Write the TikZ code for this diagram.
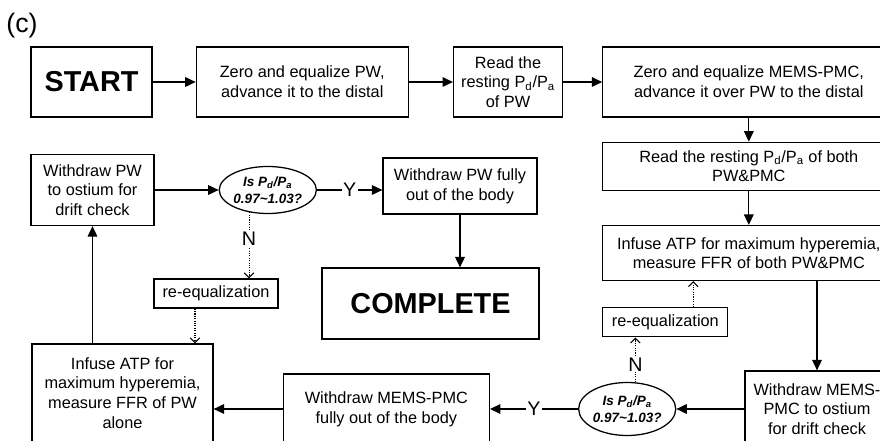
\documentclass[tikz,border=0pt]{standalone}
\usepackage{fontspec}
\setmainfont{Liberation Sans}
\usetikzlibrary{positioning,arrows.meta,shapes.geometric}

\begin{document}
\begin{tikzpicture}[
    x=0.25mm, y=-0.25mm,
    node distance=6mm and 10mm,
    box/.style={
        rectangle, draw, line width=0.9pt, inner sep=1mm, align=center,
        font=\fontsize{11.6}{14}\selectfont
    },
    bigbox/.style={box, font=\fontsize{20.5}{24}\selectfont\bfseries},
    decision/.style={
        ellipse, draw, line width=0.9pt, inner sep=0pt, align=center,
        font=\fontsize{9.6}{12}\selectfont\bfseries\itshape
    },
    arrow/.style={-{Triangle[length=2.6mm,width=2.4mm]}, line width=0.9pt},
    retry/.style={-{Straight Barb[length=1.2mm,width=2.4mm]}, line width=0.75pt,
        dash pattern=on 0.8pt off 0.9pt},
    yn/.style={fill=white, inner sep=1pt, font=\fontsize{14}{14}\selectfont}
]
\useasboundingbox (0,0) rectangle (880,441);
\clip (0,0) rectangle (880,441);
\fill[white] (0,0) rectangle (880,441);

\node[font=\fontsize{19}{19}\selectfont] (tag) at (22,26) {(c)};

% top row
\node[bigbox, minimum width=30.25mm, minimum height=17.5mm] (start) at (91.5,82) {START};
\node[box, minimum width=53mm, minimum height=17.5mm, right=10.75mm of start] (zeropw)
    {Zero and equalize PW,\\advance it to the distal};
\node[box, minimum width=27.25mm, minimum height=17.5mm, right=11mm of zeropw] (readpw)
    {Read the\\resting P\textsubscript{d}/P\textsubscript{a}\\of PW};
\node[box, minimum width=73mm, minimum height=17.5mm, right=9.75mm of readpw] (zeropmc)
    {Zero and equalize MEMS-PMC,\\advance it over PW to the distal};

% right column
\node[box, minimum width=73mm, minimum height=12mm, below=6mm of zeropmc] (readboth)
    {Read the resting P\textsubscript{d}/P\textsubscript{a} of both\\PW\&PMC};
\node[box, minimum width=73mm, minimum height=13.75mm, below=8.5mm of readboth] (ffrboth)
    {Infuse ATP for maximum hyperemia,\\measure FFR of both PW\&PMC};
\node[box, minimum width=31.25mm, minimum height=7.25mm, anchor=north west] (reeqR)
    at ([yshift=-6.5mm]ffrboth.south west) {re-equalization};

% bottom row
\node[box, minimum width=36mm, minimum height=19mm] (driftpmc) at (817,409)
    {Withdraw MEMS-\\PMC to ostium\\for drift check};
\node[decision, minimum width=23.5mm, minimum height=13.25mm, left=17mm of driftpmc] (checkR)
    {Is P\textsubscript{d}/P\textsubscript{a}\\0.97\textasciitilde1.03?};
\node[box, minimum width=51.5mm, minimum height=17.5mm, left=22mm of checkR] (outpmc)
    {Withdraw MEMS-PMC\\fully out of the body};
\node[box, minimum width=45.25mm, minimum height=24.5mm] (ffrpw) at (122.5,393)
    {Infuse ATP for\\maximum hyperemia,\\measure FFR of PW\\alone};

% middle-left row
\node[box, minimum width=30.75mm, minimum height=17.75mm] (driftpw) at (92.5,190)
    {Withdraw PW\\to ostium for\\drift check};
\node[decision, minimum width=24.25mm, minimum height=11.75mm, right=16mm of driftpw] (checkL)
    {Is P\textsubscript{d}/P\textsubscript{a}\\0.97\textasciitilde1.03?};
\node[box, minimum width=38.5mm, minimum height=14mm] (outpw) at (460,186)
    {Withdraw PW fully\\out of the body};
\node[bigbox, minimum width=54.25mm, minimum height=17.75mm] (complete) at (430.5,303.5) {COMPLETE};
\node[box, minimum width=31mm, minimum height=7.25mm] (reeqL) at (216,293.5) {re-equalization};

% connectors
\draw[arrow] (start) -- (zeropw);
\draw[arrow] (zeropw) -- (readpw);
\draw[arrow] (readpw) -- (zeropmc);
\draw[arrow] (zeropmc) -- (readboth);
\draw[arrow] (readboth) -- (ffrboth);
\draw[arrow] (ffrboth.south -| driftpmc) -- (driftpmc.north);
\draw[arrow] (driftpmc.west |- checkR) -- (checkR);
\draw[arrow] (checkR) -- node[yn]{Y} (outpmc);
\draw[arrow] (outpmc.west) -- (outpmc.west -| ffrpw.east);
\draw[arrow] (ffrpw.north -| driftpw) -- (driftpw.south);
\draw[arrow] (driftpw.east |- checkL) -- (checkL);
\draw[arrow] (checkL.east) -- node[yn]{Y} (checkL.east -| outpw.west);
\draw[arrow] (outpw.south) -- (outpw.south |- complete.north);

\draw[retry] (checkL.230) -- node[yn, pos=0.4]{N} (checkL.230 |- reeqL.north);
\draw[retry] ([xshift=-5.25mm]reeqL.south) -- ([xshift=-5.25mm]reeqL.south |- ffrpw.north);
\draw[retry] (checkR.73) -- node[yn, pos=0.4]{N} (checkR.73 |- reeqR.south);
\draw[retry] ([xshift=7mm]reeqR.north) -- ([xshift=7mm]reeqR.north |- ffrboth.south);
\end{tikzpicture}
\end{document}
